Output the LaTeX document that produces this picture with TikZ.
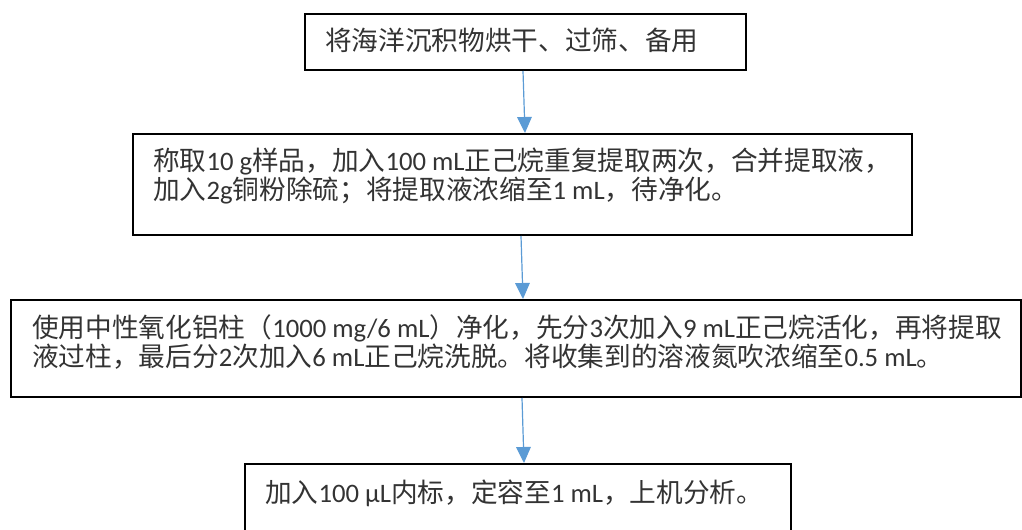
\documentclass[tikz,border=0pt]{standalone}
\usepackage{fontspec}
\setmainfont{Noto Sans CJK SC}
\newfontfamily\enfont{Carlito}
\newcommand{\en}[1]{{\enfont #1}}
\usetikzlibrary{arrows.meta}
\definecolor{flowblue}{HTML}{5B9BD5}

\begin{document}
\begin{tikzpicture}[x=0.75pt,y=-0.75pt,
  stepbox/.style={rectangle,draw=black,line width=1.5pt,inner sep=0pt,anchor=north west},
  steptext/.style={anchor=west,inner sep=0pt,align=left,text=black!80,font=\fontsize{20pt}{21.75pt}\selectfont},
  flow/.style={draw=flowblue,line width=0.9pt,-{Triangle[length=12pt,width=11pt]}}]

\useasboundingbox (0,0) rectangle (1022,529);

% boxes
\node[stepbox,minimum width=330.75pt,minimum height=42pt] (dry) at (304,13) {};
\node[stepbox,minimum width=584.25pt,minimum height=75.75pt] (weigh) at (132,133) {};
\node[stepbox,minimum width=757.5pt,minimum height=72.75pt] (clean) at (10,299) {};
\node[stepbox,minimum width=409.5pt,minimum height=75pt] (measure) at (244,463) {};

% texts
\node[steptext] (drytext) at (325,40) {将海洋沉积物烘干、过筛、备用};
\node[steptext] (weightext) at (153,175.5) {称取\en{10 g}样品，加入\en{100 mL}正己烷重复提取两次，合并提取液，\\加入\en{2g}铜粉除硫；将提取液浓缩至\en{1 mL}，待净化。};
\node[steptext] (cleantext) at (32,342.5) {使用中性氧化铝柱（\en{1000 mg/6 mL}）净化，先分\en{3}次加入\en{9 mL}正己烷活化，再将提取\\液过柱，最后分\en{2}次加入\en{6 mL}正己烷洗脱。将收集到的溶液氮吹浓缩至\en{0.5 mL}。};
\node[steptext] (measuretext) at (265,493) {加入\en{100 µL}内标，定容至\en{1 mL}，上机分析。};

% arrows
\draw[flow] (dry.south -| 523,0) -- (weigh.north -| 525,0);
\draw[flow] (weigh.south -| 521,0) -- (clean.north -| 523,0);
\draw[flow] (clean.south -| 522,0) -- (measure.north -| 524,0);

\end{tikzpicture}
\end{document}
